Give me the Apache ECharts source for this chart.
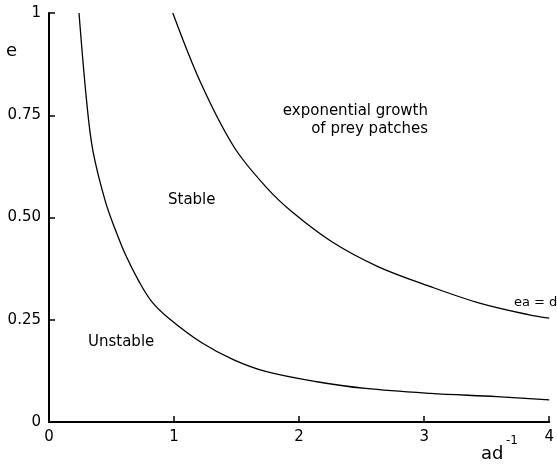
<!DOCTYPE html>
<html>
<head>
<meta charset="utf-8">
<script src="https://cdn.jsdelivr.net/npm/echarts@6/dist/echarts.min.js"></script>
<style>
html,body{margin:0;padding:0;background:#fff;}
#chart{width:557px;height:465px;}
</style>
</head>
<body>
<div id="chart"></div>
<script>
// Data
var xTicks = [0, 1, 2, 3, 4];
var yTicks = ['0', '0.25', '0.50', '0.75', '1'];
// Upper boundary curve (ea = d)
var upperX = [0.99, 1.215, 1.478, 1.74, 1.95, 2.265, 2.63, 3.05, 3.45, 3.84, 4.0];
var upperE = [1.0, 0.828, 0.673, 0.573, 0.512, 0.44, 0.38, 0.331, 0.29, 0.262, 0.254];
// Lower boundary curve (Stable / Unstable)
var lowerX = [0.24, 0.30, 0.35, 0.45, 0.533, 0.61, 0.717, 0.82, 0.96, 1.215, 1.478, 1.74, 2.13, 2.53, 3.05, 3.58, 4.0];
var lowerE = [1.0, 0.787, 0.665, 0.54, 0.468, 0.41, 0.345, 0.295, 0.253, 0.195, 0.152, 0.123, 0.099, 0.082, 0.07, 0.062, 0.054];

function pairs(xs, ys) { return xs.map(function (x, i) { return [x, ys[i]]; }); }

var FONT = 'DejaVu Sans';
var chart = echarts.init(document.getElementById('chart'), null, {renderer: 'canvas'});
chart.setOption({
  animation: false,
  backgroundColor: '#fff',
  grid: {left: 49, right: 0, top: 13, bottom: 43, containLabel: false},
  xAxis: {
    type: 'value', min: 0, max: 4, interval: 1,
    axisLine: {show: true, lineStyle: {color: '#000', width: 2}},
    axisTick: {show: true, inside: true, length: 6, lineStyle: {color: '#000', width: 1.5}},
    axisLabel: {color: '#000', fontFamily: FONT, fontSize: 15, margin: 8,
      formatter: function (v) { return String(xTicks[Math.round(v)]); }},
    splitLine: {show: false}
  },
  yAxis: {
    type: 'value', min: 0, max: 1, interval: 0.25,
    axisLine: {show: true, lineStyle: {color: '#000', width: 2}},
    axisTick: {show: true, inside: true, length: 6, lineStyle: {color: '#000', width: 1.5}},
    axisLabel: {color: '#000', fontFamily: FONT, fontSize: 15, margin: 8,
      formatter: function (v) { return yTicks[Math.round(v * 4)]; }},
    splitLine: {show: false}
  },
  series: [
    {type: 'line', data: pairs(upperX, upperE), smooth: 0.35, symbol: 'none',
     lineStyle: {color: '#000', width: 1.3}, clip: true},
    {type: 'line', data: pairs(lowerX, lowerE), smooth: 0.35, symbol: 'none',
     lineStyle: {color: '#000', width: 1.3}, clip: true}
  ],
  graphic: [
    {type: 'text', left: 6, top: 42, style: {text: 'e', font: '18px "DejaVu Sans"', fill: '#000'}},
    {type: 'text', x: 428, y: 102, style: {text: 'exponential growth\nof prey patches', font: '15px "DejaVu Sans"', fill: '#000', textAlign: 'right', lineHeight: 18}},
    {type: 'text', x: 168, y: 193, style: {text: 'Stable', font: '15px "DejaVu Sans"', fill: '#000'}},
    {type: 'text', x: 88, y: 335, style: {text: 'Unstable', font: '15px "DejaVu Sans"', fill: '#000'}},
    {type: 'text', x: 514, y: 296, style: {text: 'ea = d', font: '13px "DejaVu Sans"', fill: '#000'}},
    {type: 'text', x: 481, y: 445, style: {text: 'ad', font: '18px "DejaVu Sans"', fill: '#000'}},
    {type: 'text', x: 506, y: 435, style: {text: '-1', font: '12px "DejaVu Sans"', fill: '#000'}}
  ]
});
</script>
</body>
</html>
